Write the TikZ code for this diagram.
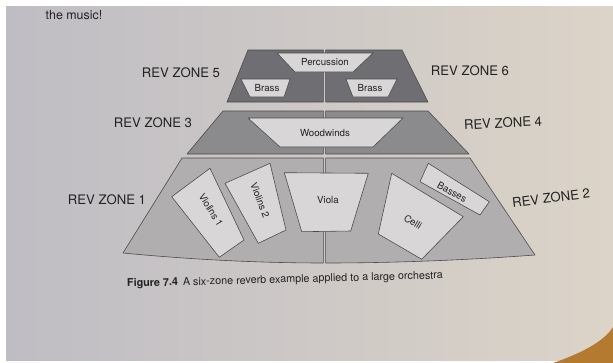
\documentclass[tikz,border=0pt]{standalone}
\usepackage{fontspec}
\setmainfont{TeX Gyre Heros}
\usepackage{xcolor}
\usetikzlibrary{positioning}
\definecolor{pagecool}{HTML}{BFBDC4}
\definecolor{pagemid}{HTML}{D1D0D2}
\definecolor{pagewarm}{HTML}{DCD4C8}
\definecolor{curlbrown}{HTML}{B47A30}
\definecolor{zonedark}{HTML}{6F6E72}
\definecolor{zonemid}{HTML}{8B8A8C}
\definecolor{zonelight}{HTML}{B0AEAF}
\definecolor{partfill}{HTML}{D8D6D6}
\definecolor{edgegrey}{HTML}{4A4A4A}
\definecolor{inkgrey}{HTML}{222222}
\tikzset{
  zone/.style={draw=edgegrey, line width=0.5pt, line join=round},
  part/.style={draw=edgegrey, fill=partfill, line width=0.5pt, line join=round},
  partlabel/.style={font=\fontsize{8.3}{9}\selectfont, text=inkgrey, inner sep=0pt},
  zonelabel/.style={font=\fontsize{11.2}{13}\selectfont, text=inkgrey, inner sep=0pt},
  bodytext/.style={font=\fontsize{10.6}{12}\selectfont, text=inkgrey, inner sep=0pt},
  captiontext/.style={font=\fontsize{9.2}{11}\selectfont, text=inkgrey, inner sep=0pt},
}

\begin{document}
\begin{tikzpicture}[x=0.03cm, y=-0.03cm]
  % page
  \useasboundingbox (0,0) rectangle (613,363);
  \fill[white] (0,0) rectangle (613,363);
  \shade[left color=pagecool, middle color=pagemid, right color=pagewarm] (6,6) rectangle (613,360);
  \fill[curlbrown] (553,363) .. controls (585,352) and (605,340) .. (613,327) -- (613,363) -- cycle;

  \node[bodytext] (music) at (74,15.5) {the music!};

  % --- zones 5 / 6 ---
  \draw[zone, fill=zonedark] (248,50) -- (323.3,50) -- (323.3,102) -- (227,102) -- cycle;
  \draw[zone, fill=zonedark] (325.7,50) -- (402,50) -- (428,102) -- (325.7,102) -- cycle;
  \draw[part] (277,53) -- (373,53) -- (353,72) -- (295,72) -- cycle;
  \draw[part] (241,79) -- (290,79) -- (284,97) -- (250,97) -- cycle;
  \draw[part] (346,79) -- (397,79) -- (388,97) -- (353,97) -- cycle;
  \node[partlabel] (perc) at (325,62) {Percussion};
  \node[partlabel] (brassl) at (267,88) {Brass};
  \node[partlabel] (brassr) at (370,88) {Brass};

  % --- zones 3 / 4 ---
  \draw[zone, fill=zonemid] (223,111) -- (323.3,111) -- (323.3,154) -- (187,154) -- cycle;
  \draw[zone, fill=zonemid] (325.7,111) -- (428,111) -- (469,154) -- (325.7,154) -- cycle;
  \draw[part] (248,118) -- (403,118) -- (373,147) -- (280,147) -- cycle;
  \node[partlabel] (wood) at (325,133) {Woodwinds};

  % --- zones 1 / 2 ---
  \draw[zone, fill=zonelight] (182,158) -- (323.3,158) -- (323.3,263)
        .. controls (260,263) and (190,259.5) .. (123,253) -- cycle;
  \draw[zone, fill=zonelight] (325.7,158) -- (470,158) -- (535,255)
        .. controls (468,260) and (395,263) .. (325.7,263) -- cycle;
  \draw[part] (171.7,196.7) -- (210,168.3) -- (244,240) -- (219.3,257.3) -- cycle;
  \draw[part] (225,183.3) -- (270,163.3) -- (286,230) -- (258.3,243.3) -- cycle;
  \draw[part] (284.3,172.7) -- (368.3,173.3) -- (350.7,231) -- (301.7,231.7) -- cycle;
  \draw[part] (391.7,173.3) -- (463.3,216.7) -- (421.7,259.3) -- (378.3,234) -- cycle;
  \draw[part] (428.3,163.3) -- (489.3,201.7) -- (480,215) -- (420,181.7) -- cycle;
  \node[partlabel, rotate=-58.5] (vln1) at (211,210) {Violins 1};
  \node[partlabel, rotate=-69] (vln2) at (260,200) {Violins 2};
  \node[partlabel] (viola) at (328,200) {Viola};
  \node[partlabel, rotate=-31] (celli) at (413,222) {Celli};
  \node[partlabel, rotate=-29] (basses) at (452,192) {Basses};

  % zone names
  \node[zonelabel] (zone5) at (181,73) {REV ZONE 5};
  \node[zonelabel] (zone6) at (470,71) {REV ZONE 6};
  \node[zonelabel] (zone3) at (153,123) {REV ZONE 3};
  \node[zonelabel, rotate=3] (zone4) at (503,123) {REV ZONE 4};
  \node[zonelabel] (zone1) at (107,200) {REV ZONE 1};
  \node[zonelabel, rotate=7] (zone2) at (551,198) {REV ZONE 2};

  \node[captiontext, rotate=1.5] (caption) at (285,280)
        {\textbf{Figure 7.4}\hspace{0.45em}A six-zone reverb example applied to a large orchestra};
\end{tikzpicture}
\end{document}
